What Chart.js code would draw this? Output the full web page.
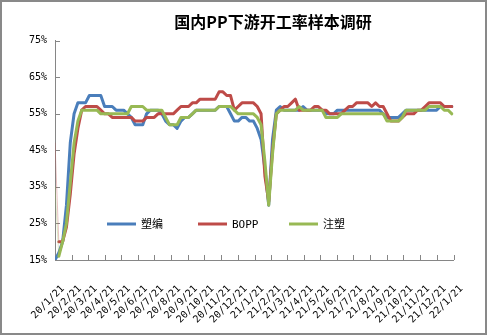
<!DOCTYPE html>
<html lang="zh">
<head>
<meta charset="UTF-8">
<title>国内PP下游开工率样本调研</title>
<script src="https://cdn.jsdelivr.net/npm/chart.js"></script>
<style>
  body { margin: 0; background: #fff; }
  .frame {
    width: 487px;
    height: 335px;
    box-sizing: border-box;
    border: 2px solid #898989;
    background: #fff;
  }
  canvas { display: block; }
</style>
</head>
<body>
<div class="frame"><canvas id="rateChart" width="483" height="331"></canvas></div>
<script>
const titleText = '国内PP下游开工率样本调研';
const seriesNames = ['塑编', 'BOPP', '注塑'];
const seriesColors = ['#4A7EBB', '#BE4B48', '#98B954'];

// weekly samples starting from this date
const firstWeek = '20/1/21';
const monthLabels = [
  '20/1/21', '20/2/21', '20/3/21', '20/4/21', '20/5/21', '20/6/21', '20/7/21',
  '20/8/21', '20/9/21', '20/10/21', '20/11/21', '20/12/21', '21/1/21', '21/2/21',
  '21/3/21', '21/4/21', '21/5/21', '21/6/21', '21/7/21', '21/8/21', '21/9/21',
  '21/10/21', '21/11/21', '21/12/21', '22/1/21'
];

// operating rate, %
const suBian = [
  15, 17, 20, 30, 47, 55, 58, 58, 58, 60,
  60, 60, 60, 57, 57, 57, 56, 56, 56, 55,
  54, 52, 52, 52, 55, 56, 56, 56, 55, 53,
  52, 52, 51, 53, 54, 54, 55, 56, 56, 56,
  56, 56, 56, 57, 57, 57, 55, 53, 53, 54,
  54, 53, 53, 51, 48, 40, 30, 48, 56, 57,
  56, 56, 56, 56, 56, 57, 56, 56, 56, 56,
  56, 55, 55, 55, 56, 56, 56, 56, 56, 56,
  56, 56, 56, 56, 56, 56, 55, 54, 54, 54,
  54, 55, 56, 56, 56, 56, 56, 56, 56, 56,
  56, 57, 57, 57, 57
];
const bopp = [
  47, 20, 20, 24, 33, 44, 51, 56, 57, 57,
  57, 57, 56, 55, 55, 54, 54, 54, 54, 54,
  54, 53, 53, 53, 54, 54, 54, 55, 55, 55,
  55, 55, 56, 57, 57, 57, 58, 58, 59, 59,
  59, 59, 59, 61, 61, 60, 60, 56, 57, 58,
  58, 58, 58, 57, 55, 38, 31, 45, 55, 56,
  57, 57, 58, 59, 56, 56, 56, 56, 57, 57,
  56, 56, 55, 55, 55, 55, 56, 57, 57, 58,
  58, 58, 58, 57, 58, 57, 57, 55, 53, 53,
  53, 54, 55, 55, 55, 56, 56, 57, 58, 58,
  58, 58, 57, 57, 57
];
const zhuSu = [
  35, 16, 20, 25, 36, 47, 53, 56, 56, 56,
  56, 56, 55, 55, 55, 55, 55, 55, 55, 55,
  57, 57, 57, 57, 56, 56, 56, 56, 56, 54,
  52, 52, 52, 54, 54, 54, 55, 56, 56, 56,
  56, 56, 56, 57, 57, 57, 57, 56, 55, 55,
  55, 55, 55, 54, 52, 42, 30, 44, 55, 56,
  56, 56, 56, 56, 57, 56, 56, 56, 56, 56,
  56, 54, 54, 54, 54, 55, 55, 55, 55, 55,
  55, 55, 55, 55, 55, 55, 55, 53, 53, 53,
  53, 54, 56, 56, 56, 56, 56, 56, 57, 57,
  57, 57, 56, 56, 55
];

const DAY = 86400000;
function toTime(label) {
  const [yy, m, d] = label.split('/').map(Number);
  return Date.UTC(2000 + yy, m - 1, d);
}
const start = toTime(firstWeek);
const tickDays = monthLabels.map(l => (toTime(l) - start) / DAY);

function weekly(values) {
  return values.map((v, i) => ({ x: i * 7, y: v }));
}

const axisColor = '#868686';
const tickFont = { family: 'DejaVu Sans Mono', size: 10 };

const decorations = {
  id: 'decorations',
  beforeDatasetsDraw(chart) {
    // short tick marks pointing into the plot
    const { ctx, chartArea: a, scales: { x, y } } = chart;
    ctx.save();
    ctx.strokeStyle = axisColor;
    ctx.lineWidth = 1;
    ctx.beginPath();
    x.ticks.forEach(t => {
      const px = Math.round(x.getPixelForValue(t.value)) + 0.5;
      ctx.moveTo(px, a.bottom);
      ctx.lineTo(px, a.bottom - 5);
    });
    y.ticks.forEach(t => {
      const py = Math.round(y.getPixelForValue(t.value)) + 0.5;
      ctx.moveTo(a.left, py);
      ctx.lineTo(a.left + 5, py);
    });
    ctx.stroke();
    ctx.restore();
  },
  afterDraw(chart) {
    const { ctx, chartArea: a } = chart;
    ctx.save();
    ctx.fillStyle = '#000';
    ctx.textBaseline = 'middle';
    ctx.textAlign = 'center';
    ctx.font = 'bold 16px "Noto Sans CJK SC"';
    ctx.fillText(titleText, 271, 20);

    // legend sits inside the plot, in dataset order
    ctx.textAlign = 'left';
    ctx.font = '11px "DejaVu Sans Mono", "Noto Sans CJK SC"';
    const ly = a.bottom - 36;
    chart.data.datasets.forEach((ds, i) => {
      const lx = a.left + 52 + i * 91;
      ctx.strokeStyle = ds.borderColor;
      ctx.lineWidth = 3;
      ctx.beginPath();
      ctx.moveTo(lx, ly);
      ctx.lineTo(lx + 29, ly);
      ctx.stroke();
      ctx.fillText(ds.label, lx + 34, ly + 1);
    });
    ctx.restore();
  }
};

function fadedFirst(color) {
  return {
    borderColor: c => c.p0DataIndex === 0 ? color + '55' : undefined,
    borderWidth: c => c.p0DataIndex === 0 ? 1 : undefined
  };
}

const ctx = document.getElementById('rateChart').getContext('2d');
const rateChart = new Chart(ctx, {
  type: 'line',
  data: {
    datasets: [
      { label: seriesNames[0], data: weekly(suBian), borderColor: seriesColors[0], order: 2 },
      { label: seriesNames[1], data: weekly(bopp), borderColor: seriesColors[1], order: 1,
        segment: fadedFirst(seriesColors[1]) },
      { label: seriesNames[2], data: weekly(zhuSu), borderColor: seriesColors[2], order: 0,
        segment: fadedFirst(seriesColors[2]) }
    ]
  },
  options: {
    responsive: false,
    animation: false,
    devicePixelRatio: 1,
    layout: { padding: { left: 0, top: 38.7, right: 28, bottom: 0 } },
    elements: {
      line: { borderWidth: 3, tension: 0, borderJoinStyle: 'round', borderCapStyle: 'round', fill: false },
      point: { radius: 0, hoverRadius: 0 }
    },
    plugins: {
      legend: { display: false },
      title: { display: false },
      tooltip: { enabled: false }
    },
    scales: {
      x: {
        type: 'linear',
        min: tickDays[0],
        max: tickDays[tickDays.length - 1],
        afterBuildTicks: scale => { scale.ticks = tickDays.map(v => ({ value: v })); },
        afterFit: scale => { scale.height = 73; },
        grid: { display: false, drawTicks: false },
        border: { display: true, color: axisColor, width: 1 },
        ticks: {
          autoSkip: false,
          minRotation: 45,
          maxRotation: 45,
          padding: 23,
          labelOffset: 8,
          color: '#000',
          font: tickFont,
          callback: v => monthLabels[tickDays.indexOf(v)]
        }
      },
      y: {
        min: 15,
        max: 75,
        afterFit: scale => { scale.width = 53; },
        grid: { display: false, drawTicks: false },
        border: { display: true, color: axisColor, width: 1 },
        ticks: {
          stepSize: 10,
          padding: 8,
          color: '#000',
          font: tickFont,
          callback: v => v + '%'
        }
      }
    }
  },
  plugins: [decorations]
});
</script>
</body>
</html>
